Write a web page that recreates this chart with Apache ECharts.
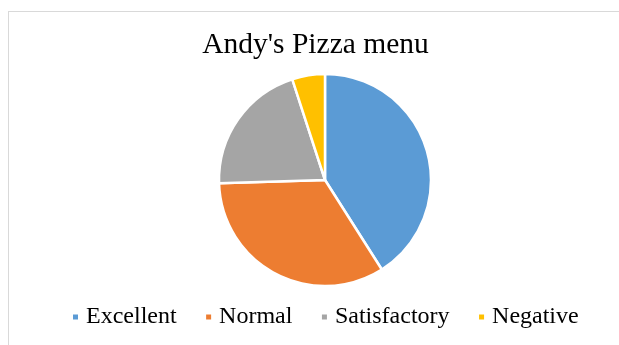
<!DOCTYPE html>
<html>
<head>
<meta charset="utf-8">
<script src="https://cdn.jsdelivr.net/npm/echarts@6/dist/echarts.min.js"></script>
<style>
  html, body { margin: 0; padding: 0; background: #fff; overflow: hidden; }
  #frame { position: absolute; left: 8px; top: 11px; width: 700px; height: 400px; border: 1px solid #d9d9d9; }
  #main { position: absolute; left: 0; top: 0; width: 619px; height: 345px; }
</style>
</head>
<body>
<div id="frame"></div>
<div id="main"></div>
<script>
// ratings for the menu
var categories = ['Excellent', 'Normal', 'Satisfactory', 'Negative'];
var values = [41, 33.5, 20.5, 5];
var colors = ['#5B9BD5', '#ED7D31', '#A5A5A5', '#FFC000'];

var chart = echarts.init(document.getElementById('main'));

var pieData = [];
for (let i = 0; i < categories.length; i++) {
    pieData.push({ name: categories[i], value: values[i] });
}

var op = {
    color: colors,
    title: {
        text: "Andy's Pizza menu",
        left: 310.5,
        textAlign: 'center',
        top: 25,
        textStyle: {
            fontFamily: 'Liberation Serif',
            fontSize: 29.5,
            fontWeight: 'normal',
            color: '#000'
        }
    },
    legend: {
        data: categories,
        left: 66,
        top: 300,
        icon: 'rect',
        itemWidth: 7,
        itemHeight: 7,
        itemGap: 27.5,
        textStyle: {
            fontFamily: 'Liberation Serif',
            fontSize: 24,
            color: '#000',
            padding: [0, 0, 0, 2]
        }
    },
    series: [
        {
            type: 'pie',
            center: [325, 180],
            radius: 106,
            startAngle: 90,
            clockwise: true,
            label: { show: false },
            labelLine: { show: false },
            itemStyle: { borderColor: '#fff', borderWidth: 2.5 },
            emphasis: { disabled: true },
            animation: false,
            data: pieData
        }
    ]
};
chart.setOption(op);
</script>
</body>
</html>
